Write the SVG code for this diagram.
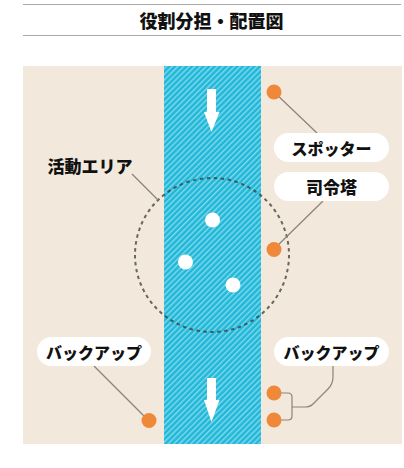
<svg xmlns="http://www.w3.org/2000/svg" width="404" height="468" viewBox="0 0 404 468">
  <style>
    .t{font-family:"Noto Sans CJK JP","Noto Sans CJK SC",sans-serif;font-weight:900;fill:#111;text-anchor:middle;dominant-baseline:central}
    .pill{fill:#fff}
    .lead{fill:none;stroke:#8c8379;stroke-width:1.2}
    .orange{fill:#f0883a}
    .ball{fill:#fff}
    .rule{stroke:#aaa;stroke-width:1.2}
  </style>
  <defs>
    <pattern id="stripes" patternUnits="userSpaceOnUse" width="4" height="4" patternTransform="rotate(45)">
      <rect width="4" height="4" fill="#1eb8d8"/>
      <rect width="1.4" height="4" fill="#86d8ec"/>
    </pattern>
  </defs>
  <rect width="404" height="468" fill="#fff"/>

  <g id="title">
    <line class="rule" x1="23" y1="4.5" x2="401" y2="4.5"/>
    <text class="t" x="211.5" y="19.5" font-size="18">役割分担・配置図</text>
    <line class="rule" x1="23" y1="35.5" x2="401" y2="35.5"/>
  </g>

  <g id="field">
    <rect x="23" y="66" width="379" height="378" fill="#f2e9dc"/>
    <rect x="164" y="66" width="97" height="378" fill="url(#stripes)"/>
  </g>

  <g id="arrows" fill="#fff">
    <path d="M207,89 H216 V112 H219.5 L211.5,132 L204,112 H207 Z"/>
    <path d="M207,378 H216 V400 H219.5 L211.5,422 L204,400 H207 Z"/>
  </g>

  <g id="area">
    <circle cx="212" cy="255" r="77" fill="none" stroke="#3a3a3a" stroke-opacity="0.75" stroke-width="2" stroke-dasharray="3.5 3.5"/>
  </g>

  <g id="players">
    <circle class="ball" cx="212.5" cy="220" r="7.5"/>
    <circle class="ball" cx="185.5" cy="262" r="7.5"/>
    <circle class="ball" cx="233" cy="285" r="7.5"/>
  </g>

  <g id="connectors">
    <line class="lead" x1="132" y1="174" x2="158" y2="200"/>
    <line class="lead" x1="274" y1="92" x2="317" y2="133"/>
    <line class="lead" x1="323" y1="201" x2="274" y2="249"/>
    <line class="lead" x1="94" y1="366" x2="149" y2="421"/>
    <path class="lead" d="M333,366 V377 Q333,384 328,389 L313,404 Q310,407 305,407 H292"/>
    <path class="lead" d="M281,393 H288 Q292,393 292,397 V416 Q292,420 288,420 H281"/>
  </g>

  <g id="label-area">
    <text class="t" x="90" y="165.5" font-size="17">活動エリア</text>
  </g>

  <g id="spotter">
    <circle class="orange" cx="274" cy="92" r="7.5"/>
    <rect class="pill" x="274" y="133" width="115" height="29" rx="14.5"/>
    <text class="t" x="331.5" y="147.5" font-size="16">スポッター</text>
  </g>

  <g id="commander">
    <circle class="orange" cx="274" cy="249.5" r="7.5"/>
    <rect class="pill" x="274" y="172" width="115" height="29" rx="14.5"/>
    <text class="t" x="331.5" y="186.5" font-size="17">司令塔</text>
  </g>

  <g id="backup-left">
    <circle class="orange" cx="149" cy="420.5" r="7.5"/>
    <rect class="pill" x="37" y="337" width="114" height="29" rx="14.5"/>
    <text class="t" x="94" y="351.5" font-size="16">バックアップ</text>
  </g>

  <g id="backup-right">
    <circle class="orange" cx="274" cy="393" r="7.5"/>
    <circle class="orange" cx="274" cy="420" r="7.5"/>
    <rect class="pill" x="274" y="337" width="115" height="29" rx="14.5"/>
    <text class="t" x="331.5" y="351.5" font-size="16">バックアップ</text>
  </g>
</svg>
